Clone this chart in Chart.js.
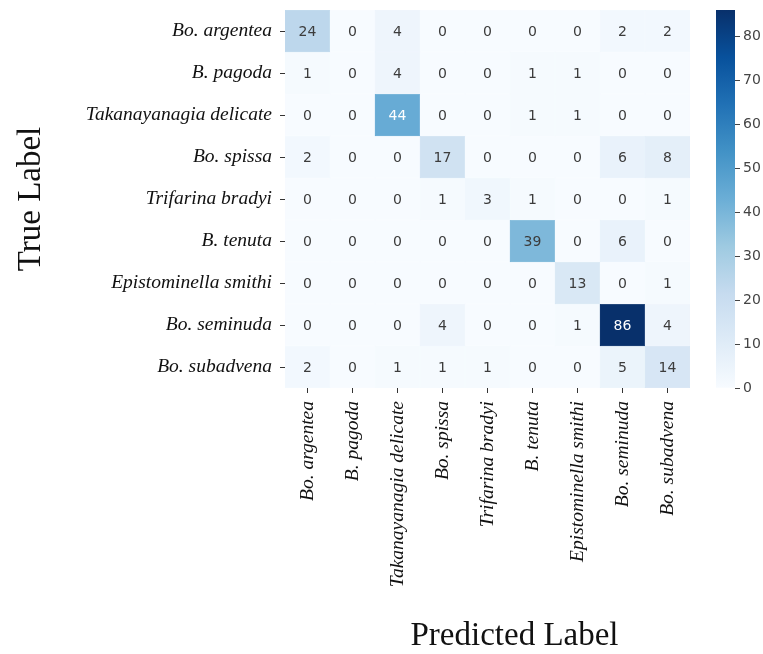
<!DOCTYPE html>
<html>
<head>
<meta charset="utf-8">
<script src="https://cdn.jsdelivr.net/npm/chart.js@4.4.0/dist/chart.umd.min.js"></script>
<style>
  body { margin: 0; background: #fff; }
  #wrap { position: relative; width: 763px; height: 654px; }
  #cm { position: absolute; left: 0; top: 0; }
  #cbar { position: absolute; left: 716px; top: 0; }
</style>
</head>
<body>
<div id="wrap">
  <canvas id="cm" width="763" height="654"></canvas>
  <canvas id="cbar" width="47" height="654"></canvas>
</div>
<script>
// Class names (rows = true label, columns = predicted label)
const trueLabels = [
    'Bo. argentea', 'B. pagoda', 'Takanayanagia delicate', 'Bo. spissa',
    'Trifarina bradyi', 'B. tenuta', 'Epistominella smithi', 'Bo. seminuda', 'Bo. subadvena'
];
const predLabels = trueLabels.slice();

// Confusion matrix counts, one array per true label
const rowArgentea  = [24, 0, 4, 0, 0, 0, 0, 2, 2];
const rowPagoda    = [1, 0, 4, 0, 0, 1, 1, 0, 0];
const rowTakana    = [0, 0, 44, 0, 0, 1, 1, 0, 0];
const rowSpissa    = [2, 0, 0, 17, 0, 0, 0, 6, 8];
const rowTrifarina = [0, 0, 0, 1, 3, 1, 0, 0, 1];
const rowTenuta    = [0, 0, 0, 0, 0, 39, 0, 6, 0];
const rowEpisto    = [0, 0, 0, 0, 0, 0, 13, 0, 1];
const rowSeminuda  = [0, 0, 0, 4, 0, 0, 1, 86, 4];
const rowSubadvena = [2, 0, 1, 1, 1, 0, 0, 5, 14];
const counts = [rowArgentea, rowPagoda, rowTakana, rowSpissa, rowTrifarina,
                rowTenuta, rowEpisto, rowSeminuda, rowSubadvena];

const colorbarTicks = [0, 10, 20, 30, 40, 50, 60, 70, 80];
const vmin = 0;
const vmax = 86;

// matplotlib "Blues" anchor colours
const BLUES = [
    [247, 251, 255], [222, 235, 247], [198, 219, 239], [158, 202, 225], [107, 174, 214],
    [66, 146, 198], [33, 113, 181], [8, 81, 156], [8, 48, 107]
];

function bluesRgb(t) {
    t = Math.max(0, Math.min(1, t));
    const pos = t * (BLUES.length - 1);
    const i = Math.min(Math.floor(pos), BLUES.length - 2);
    const f = pos - i;
    return BLUES[i].map((c, k) => Math.round(c + (BLUES[i + 1][k] - c) * f));
}
function bluesCss(t) {
    const c = bluesRgb(t);
    return `rgb(${c[0]},${c[1]},${c[2]})`;
}
// seaborn picks annotation colour from cell luminance
function textColor(t) {
    const lin = bluesRgb(t).map(c => {
        c /= 255;
        return c <= 0.03928 ? c / 12.92 : Math.pow((c + 0.055) / 1.055, 2.4);
    });
    const lum = 0.2126 * lin[0] + 0.7152 * lin[1] + 0.0722 * lin[2];
    return lum > 0.408 ? '#3c3c3c' : '#ffffff';
}

const serif = 'Liberation Serif';

// Write the count in the middle of every cell
const annotate = {
    id: 'annotate',
    afterDatasetsDraw(chart) {
        const ctx = chart.ctx;
        ctx.save();
        ctx.font = '14px "DejaVu Sans"';
        ctx.textAlign = 'center';
        ctx.textBaseline = 'middle';
        chart.data.datasets.forEach((ds, r) => {
            chart.getDatasetMeta(r).data.forEach((bar, c) => {
                const v = ds.counts[c];
                ctx.fillStyle = textColor((v - vmin) / (vmax - vmin));
                ctx.fillText(String(v), bar.x, (bar.y + bar.base) / 2 + 1);
            });
        });
        ctx.restore();
    }
};

// x axis title sits a little right of centre in the reference
const xTitle = {
    id: 'xTitle',
    afterDraw(chart) {
        const ctx = chart.ctx;
        const ca = chart.chartArea;
        ctx.save();
        ctx.font = `33px "${serif}"`;
        ctx.fillStyle = '#111';
        ctx.textAlign = 'center';
        ctx.textBaseline = 'alphabetic';
        ctx.fillText('Predicted Label', (ca.left + ca.right) / 2 + 27, 645);
        ctx.restore();
    }
};

const heatmap = new Chart(document.getElementById('cm'), {
    type: 'bar',
    data: {
        labels: predLabels,
        datasets: counts.map((row, r) => ({
            label: trueLabels[r],
            data: row.map(() => 1),
            counts: row,
            backgroundColor: row.map(v => bluesCss((v - vmin) / (vmax - vmin))),
            borderColor: row.map(v => bluesCss((v - vmin) / (vmax - vmin))),
            borderWidth: 0.5,
            borderSkipped: false,
            barPercentage: 1,
            categoryPercentage: 1
        }))
    },
    options: {
        responsive: false,
        animation: false,
        layout: { padding: { top: 10, right: 73, left: 0, bottom: 0 } },
        plugins: { legend: { display: false }, tooltip: { enabled: false } },
        scales: {
            x: {
                stacked: true,
                afterFit: s => { s.height = 266; s.paddingLeft = 0; s.paddingRight = 0; },
                grid: { drawOnChartArea: false, offset: false, tickLength: 5, tickColor: '#333' },
                border: { display: false },
                ticks: {
                    autoSkip: false, maxRotation: 90, minRotation: 90, padding: 8,
                    color: '#111', font: { family: serif, style: 'italic', size: 19.5 }
                }
            },
            y: {
                type: 'linear',
                stacked: true,
                reverse: true,
                min: 0,
                max: trueLabels.length,
                afterBuildTicks: s => { s.ticks = trueLabels.map((_, i) => ({ value: i + 0.5 })); },
                afterFit: s => { s.width = 285; s.paddingTop = 0; s.paddingBottom = 0; },
                grid: { drawOnChartArea: false, tickLength: 5, tickColor: '#333' },
                border: { display: false },
                ticks: {
                    autoSkip: false, padding: 8, color: '#111',
                    font: { family: serif, style: 'italic', size: 19.5 },
                    callback: v => trueLabels[Math.floor(v)]
                },
                title: {
                    display: true, text: 'True Label', color: '#111',
                    font: { family: serif, size: 33 },
                    padding: { top: 12, bottom: 0 }
                }
            }
        }
    },
    plugins: [annotate, xTitle]
});

// Colour bar: one floating bar spanning vmin..vmax, filled with the colormap
const colorbar = new Chart(document.getElementById('cbar'), {
    type: 'bar',
    data: {
        labels: [''],
        datasets: [{
            data: [[vmin, vmax]],
            backgroundColor: ctx => {
                const ca = ctx.chart.chartArea;
                if (!ca) return BLUES[0];
                const g = ctx.chart.ctx.createLinearGradient(0, ca.bottom, 0, ca.top);
                BLUES.forEach((c, i) => g.addColorStop(i / (BLUES.length - 1), `rgb(${c[0]},${c[1]},${c[2]})`));
                return g;
            },
            borderWidth: 0,
            barPercentage: 1,
            categoryPercentage: 1
        }]
    },
    options: {
        responsive: false,
        animation: false,
        layout: { padding: { top: 10, bottom: 266, left: 0, right: 0 } },
        plugins: { legend: { display: false }, tooltip: { enabled: false } },
        scales: {
            x: { display: false },
            y: {
                position: 'right',
                min: vmin,
                max: vmax,
                afterBuildTicks: s => { s.ticks = colorbarTicks.map(v => ({ value: v })); },
                afterFit: s => { s.width = 28; s.paddingTop = 0; s.paddingBottom = 0; },
                grid: { drawOnChartArea: false, tickLength: 5, tickColor: '#444' },
                border: { display: false },
                ticks: { padding: 3, color: '#444', font: { family: 'DejaVu Sans', size: 14 } }
            }
        }
    }
});
</script>
</body>
</html>
